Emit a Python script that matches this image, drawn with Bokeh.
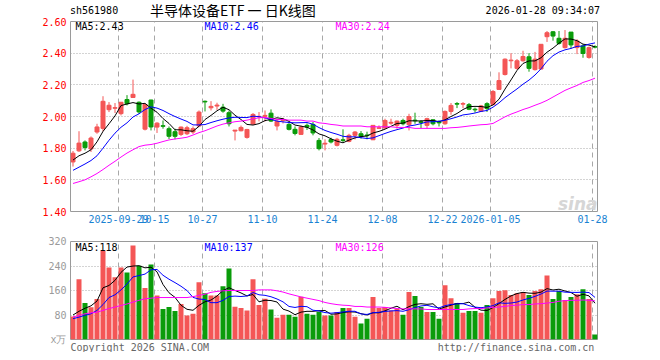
from bokeh.plotting import figure
from bokeh.models import (ColumnDataSource, Range1d, FixedTicker, Label, Title, Div,
                          CustomJSTickFormatter, PrintfTickFormatter)
from bokeh.layouts import column
from bokeh.embed import file_html
from bokeh.resources import INLINE

# ---------------- data ----------------
opens = [1.713, 1.783, 1.839, 1.795, 1.902, 1.925, 2.043, 2.052, 2.018, 2.107,
         2.120, 2.090, 1.920, 2.104, 1.933, 1.942, 1.923, 1.904, 1.887, 1.891,
         1.902, 1.940, 2.096, 2.055, 2.066, 2.059, 2.024, 1.908, 1.910, 1.868,
         1.952, 1.998, 2.001, 2.021, 1.940, 1.974, 1.950, 1.919, 1.887, 1.944,
         1.950, 1.849, 1.826, 1.854, 1.818, 1.853, 1.843, 1.881, 1.891, 1.883,
         1.853, 1.925, 1.927, 1.958, 1.944, 1.975, 1.948, 1.977, 1.967, 1.944,
         1.979, 1.965, 1.954, 2.032, 2.082, 2.078, 2.075, 2.046, 2.033, 2.081,
         2.075, 2.171, 2.265, 2.352, 2.304, 2.352, 2.377, 2.296, 2.300, 2.504,
         2.535, 2.494, 2.435, 2.533, 2.435, 2.446, 2.373, 2.442]
highs = [1.782, 1.907, 1.849, 1.874, 1.954, 2.128, 2.091, 2.085, 2.091, 2.135,
         2.233, 2.095, 2.080, 2.106, 1.964, 1.975, 1.937, 1.923, 1.937, 1.941,
         1.937, 2.038, 2.101, 2.097, 2.087, 2.080, 2.038, 1.914, 1.943, 1.922,
         2.022, 2.028, 2.038, 2.045, 1.986, 1.992, 1.965, 1.937, 1.943, 1.956,
         1.965, 1.864, 1.856, 1.866, 1.865, 1.919, 1.891, 1.908, 1.908, 1.904,
         1.944, 1.944, 1.986, 1.986, 1.975, 1.986, 2.017, 2.024, 1.977, 1.992,
         1.981, 1.975, 2.038, 2.085, 2.091, 2.091, 2.085, 2.056, 2.073, 2.090,
         2.167, 2.279, 2.367, 2.400, 2.363, 2.415, 2.400, 2.408, 2.456, 2.540,
         2.540, 2.540, 2.546, 2.533, 2.488, 2.456, 2.442, 2.450]
lows = [1.684, 1.776, 1.786, 1.776, 1.891, 1.906, 2.028, 2.022, 2.007, 2.070,
        2.118, 2.017, 1.912, 1.912, 1.896, 1.923, 1.858, 1.856, 1.877, 1.883,
        1.889, 1.933, 2.032, 2.038, 2.042, 2.024, 1.937, 1.849, 1.906, 1.860,
        1.948, 1.969, 1.969, 1.965, 1.912, 1.956, 1.912, 1.881, 1.887, 1.915,
        1.881, 1.786, 1.786, 1.830, 1.811, 1.839, 1.837, 1.855, 1.860, 1.856,
        1.851, 1.923, 1.923, 1.948, 1.923, 1.944, 1.912, 1.954, 1.927, 1.923,
        1.944, 1.937, 1.948, 2.011, 2.053, 2.053, 2.040, 2.025, 2.029, 2.029,
        2.071, 2.171, 2.259, 2.304, 2.296, 2.346, 2.283, 2.290, 2.296, 2.471,
        2.479, 2.454, 2.429, 2.429, 2.394, 2.371, 2.365, 2.430]
closes = [1.768, 1.832, 1.804, 1.864, 1.934, 2.096, 2.071, 2.056, 2.090, 2.081,
          2.140, 2.029, 2.076, 1.934, 1.958, 1.938, 1.875, 1.875, 1.933, 1.929,
          1.923, 2.028, 2.092, 2.064, 2.072, 2.034, 1.954, 1.914, 1.931, 1.918,
          2.013, 2.001, 2.007, 1.971, 1.969, 1.980, 1.919, 1.893, 1.933, 1.933,
          1.896, 1.797, 1.831, 1.839, 1.856, 1.849, 1.881, 1.902, 1.875, 1.879,
          1.944, 1.929, 1.975, 1.963, 1.971, 1.954, 2.000, 1.973, 1.962, 1.986,
          1.954, 1.960, 2.032, 2.070, 2.078, 2.082, 2.046, 2.042, 2.067, 2.050,
          2.158, 2.227, 2.362, 2.356, 2.352, 2.379, 2.304, 2.362, 2.456, 2.529,
          2.508, 2.462, 2.494, 2.452, 2.477, 2.398, 2.435, 2.438]
volumes = [75, 197, 119, 105, 132, 291, 235, 203, 235, 219,
           307, 241, 168, 245, 144, 100, 106, 93, 116, 78,
           84, 187, 151, 144, 144, 174, 232, 107, 103, 95,
           197, 113, 133, 98, 71, 81, 81, 74, 140, 84,
           81, 91, 78, 78, 90, 103, 103, 74, 52, 68,
           139, 103, 106, 95, 100, 81, 155, 142, 106, 90,
           90, 68, 177, 135, 119, 87, 93, 93, 87, 113,
           135, 158, 161, 145, 151, 155, 145, 158, 164, 209,
           132, 158, 129, 139, 148, 164, 132, 16]
ma5 = [1.725, 1.752, 1.768, 1.790, 1.840, 1.906, 1.954, 2.004, 2.069, 2.079,
       2.088, 2.079, 2.083, 2.052, 2.027, 1.987, 1.956, 1.916, 1.916, 1.910,
       1.907, 1.938, 1.981, 2.007, 2.036, 2.058, 2.043, 2.008, 1.981, 1.950,
       1.946, 1.955, 1.974, 1.982, 1.992, 1.986, 1.969, 1.946, 1.939, 1.932,
       1.915, 1.890, 1.878, 1.859, 1.844, 1.834, 1.851, 1.865, 1.873, 1.877,
       1.896, 1.906, 1.920, 1.938, 1.956, 1.958, 1.973, 1.972, 1.972, 1.975,
       1.975, 1.967, 1.979, 2.000, 2.019, 2.044, 2.062, 2.064, 2.063, 2.057,
       2.073, 2.109, 2.173, 2.231, 2.291, 2.335, 2.351, 2.351, 2.371, 2.406,
       2.432, 2.463, 2.490, 2.489, 2.479, 2.457, 2.451, 2.440]
ma10 = [1.660, 1.680, 1.700, 1.722, 1.752, 1.800, 1.850, 1.895, 1.932, 1.960,
        1.997, 2.017, 2.044, 2.061, 2.053, 2.038, 2.018, 2.000, 1.984, 1.969,
        1.947, 1.947, 1.949, 1.962, 1.973, 1.983, 1.991, 1.995, 1.994, 1.993,
        2.002, 1.999, 1.991, 1.982, 1.971, 1.966, 1.962, 1.960, 1.961, 1.962,
        1.951, 1.930, 1.912, 1.899, 1.888, 1.875, 1.871, 1.872, 1.866, 1.861,
        1.865, 1.879, 1.893, 1.906, 1.917, 1.927, 1.940, 1.946, 1.955, 1.966,
        1.967, 1.970, 1.976, 1.986, 1.997, 2.010, 2.015, 2.022, 2.032, 2.038,
        2.059, 2.086, 2.119, 2.147, 2.174, 2.204, 2.230, 2.262, 2.301, 2.349,
        2.384, 2.407, 2.421, 2.430, 2.443, 2.445, 2.457, 2.465]
ma30 = [1.577, 1.588, 1.600, 1.619, 1.640, 1.665, 1.692, 1.717, 1.744, 1.769,
        1.790, 1.810, 1.819, 1.823, 1.831, 1.842, 1.852, 1.858, 1.863, 1.869,
        1.883, 1.898, 1.910, 1.925, 1.940, 1.952, 1.960, 1.967, 1.971, 1.977,
        1.985, 1.992, 1.994, 1.988, 1.981, 1.981, 1.977, 1.977, 1.977, 1.971,
        1.971, 1.960, 1.956, 1.950, 1.946, 1.940, 1.940, 1.940, 1.940, 1.935,
        1.935, 1.935, 1.935, 1.935, 1.931, 1.931, 1.931, 1.925, 1.925, 1.925,
        1.925, 1.925, 1.925, 1.929, 1.931, 1.935, 1.940, 1.944, 1.948, 1.950,
        1.956, 1.977, 1.998, 2.015, 2.029, 2.044, 2.056, 2.071, 2.085, 2.102,
        2.123, 2.144, 2.165, 2.181, 2.196, 2.215, 2.227, 2.242]
vma5 = [80, 92, 102, 110, 125.6, 168.8, 176.4, 193.2, 219.2, 236.6,
        239.8, 241, 234, 236, 221, 179.6, 152.6, 137.6, 111.8, 98.6,
        95.4, 111.6, 123.2, 128.8, 142, 160, 169, 160.2, 152, 142.2,
        146.8, 123, 128.2, 127.2, 122.4, 99.2, 92.8, 81, 89.4, 92,
        92, 94, 94.8, 82.4, 83.6, 88, 90.4, 89.6, 84.4, 80,
        87.2, 87.2, 93.6, 102.2, 108.6, 97, 107.4, 114.6, 116.8, 114.8,
        116.6, 99.2, 106.2, 112, 117.8, 117.2, 122.2, 105.4, 95.8, 94.6,
        104.2, 117.2, 130.8, 142.4, 150, 154, 151.4, 150.8, 154.6, 166.2,
        161.6, 164.2, 158.4, 153.4, 141.2, 147.6, 142.4, 118.5]
vma10 = [68, 73, 79, 84, 95, 114, 137, 146, 162, 181.1,
         204.3, 208.7, 213.6, 227.6, 228.8, 209.7, 196.8, 185.8, 173.9, 159.8,
         137.5, 132.1, 130.4, 120.3, 120.3, 127.7, 140.3, 141.7, 140.4, 142.1,
         153.4, 146, 144.2, 139.6, 132.3, 123, 107.9, 104.6, 108.3, 107.2,
         95.6, 93.4, 87.9, 85.9, 87.8, 90, 92.2, 92.2, 83.4, 81.8,
         87.6, 88.8, 91.6, 93.3, 94.3, 92.1, 97.3, 104.1, 109.5, 111.7,
         106.8, 103.3, 110.4, 114.4, 116.3, 116.9, 110.7, 105.8, 103.9, 106.2,
         110.7, 119.7, 118.1, 119.1, 122.3, 129.1, 134.3, 140.8, 148.5, 158.1,
         157.8, 157.8, 154.6, 154, 153.7, 154.6, 153.3, 137.5]
vma30 = [74, 78, 84, 87, 89, 95, 101, 106, 111, 116,
         122, 128, 133, 135, 137, 137, 137, 137, 137, 137,
         140, 144, 148, 154, 157, 159, 160, 160, 160, 160,
         160, 162, 162, 162, 159, 155, 149, 144, 139, 135,
         131, 127, 121, 117, 114, 112, 111, 108, 108, 106,
         106, 106, 105, 103, 101, 100, 100, 100, 100, 98,
         98, 98, 98, 98, 98, 98, 100, 101, 101, 103,
         105, 106, 108, 111, 112, 114, 114, 116, 117, 119,
         121, 125, 127, 128, 128, 129, 128, 126]

tick_idx = [8, 14, 22, 32, 42, 52, 62, 70, 87]
tick_labels = ["2025-09-29", "10-15", "10-27", "11-10", "11-24",
               "12-08", "12-22", "2026-01-05", "01-28"]
price_ticks = [1.40, 1.60, 1.80, 2.00, 2.20, 2.40, 2.60]
vol_ticks = [0, 80, 160, 240, 320]

code_name = "sh561980"
title_text = "半导体设备ETF 一 日K线图"
stamp_text = "2026-01-28 09:34:07"
legend_price = ["MA5:2.43", "MA10:2.46", "MA30:2.24"]
legend_vol = ["MA5:118", "MA10:137", "MA30:126"]
footer_left = "Copyright 2026 SINA.COM"
footer_right = "http://finance.sina.com.cn"

# ---------------- styling / geometry ----------------
UP = "#f45656"
DOWN = "#0a9c0a"
MONO = "DejaVu Sans Mono"
W = 652
FRAME_L, FRAME_R = 70, 597
SLOT = 6.0
HALF = 5.0 / 12.0
X0 = -HALF
X1 = X0 + (FRAME_R - FRAME_L) / SLOT
HEAD_H = 17

n = len(closes)
xs = list(range(n))
colors = [UP if c >= o else DOWN for o, c in zip(opens, closes)]
src = ColumnDataSource(dict(
    x=xs, open=opens, high=highs, low=lows, close=closes,
    btop=[max(o, c) for o, c in zip(opens, closes)],
    bbot=[min(o, c) for o, c in zip(opens, closes)],
    vol=volumes, color=colors,
    ma5=ma5, ma10=ma10, ma30=ma30, vma5=vma5, vma10=vma10, vma30=vma30))


def px2x(px):
    return (px - FRAME_L) / SLOT + X0


def add_label(p, x, y, text, color="#000000", font=MONO, size="10px",
              align="left", baseline="middle", style="normal"):
    p.add_layout(Label(x=x, y=y, text=text, text_color=color, text_font=font,
                       text_font_size=size, text_align=align,
                       text_baseline=baseline, text_font_style=style))


# ---------------- header strip (page y 0..17) ----------------
head_html = (
    f'<div style="position:relative;width:{W}px;height:{HEAD_H}px;overflow:visible;'
    f'font-family:\'{MONO}\';font-size:10px;color:#000;white-space:nowrap;">'
    f'<span style="position:absolute;left:70px;top:6px;line-height:10px;">{code_name}</span>'
    f'<span style="position:absolute;left:150px;top:3px;line-height:14px;font-size:14px;'
    f'font-family:\'Noto Sans CJK SC\';">{title_text}</span>'
    f'<span style="position:absolute;right:{W - 600}px;top:6px;line-height:10px;">{stamp_text}</span>'
    f'</div>')
head = Div(text=head_html, width=W, height=HEAD_H, margin=(0, 0, 0, 0))

# ---------------- price panel: frame page y 21..211 ----------------
P_TOP, P_BOT = 21, 211


def py2p(py):
    return 2.60 - (py - P_TOP) / (P_BOT - P_TOP) * 1.2


p1 = figure(width=W, height=211, x_range=Range1d(X0, X1),
            y_range=Range1d(1.40, 2.60), output_backend="svg",
            toolbar_location=None, min_border_left=70, min_border_right=W - FRAME_R,
            min_border_top=P_TOP - HEAD_H, min_border_bottom=17)
p1.outline_line_color = "#9a9a9a"
p1.background_fill_color = "white"
p1.border_fill_color = "white"

date_ticker = FixedTicker(ticks=[k - HALF for k in tick_idx])
p1.xaxis.ticker = date_ticker
p1.xaxis.formatter = CustomJSTickFormatter(
    args=dict(idx=tick_idx, labels=tick_labels),
    code="const k = Math.round(tick + 5/12); const j = idx.indexOf(k); return j >= 0 ? labels[j] : '';")
p1.yaxis.ticker = FixedTicker(ticks=price_ticks)
p1.yaxis.formatter = PrintfTickFormatter(format="%.2f")
for ax in (p1.xaxis[0], p1.yaxis[0]):
    ax.axis_line_color = None
    ax.major_tick_out = 0
    ax.major_tick_in = 0
    ax.minor_tick_out = 0
    ax.minor_tick_in = 0
    ax.major_label_text_font = MONO
    ax.major_label_text_font_size = "10px"
p1.xaxis.major_label_text_color = "#1a82d2"
p1.xaxis.major_label_standoff = 3
p1.yaxis.major_label_text_color = "#ff0000"
p1.yaxis.major_label_standoff = 4
p1.ygrid.grid_line_color = "#a8a8a8"
p1.ygrid.grid_line_dash = "1 2"
p1.xgrid.grid_line_color = "#a8a8a8"
p1.xgrid.grid_line_dash = "5 4"

p1.segment(x0="x", y0="low", x1="x", y1="high", source=src,
           line_color="color", line_width=1)
p1.vbar(x="x", width=4.0 / 6.0, top="btop", bottom="bbot", source=src,
        fill_color="color", line_color="color", line_width=1)
p1.line("x", "ma5", source=src, line_color="#000000", line_width=1)
p1.line("x", "ma10", source=src, line_color="#0000ff", line_width=1)
p1.line("x", "ma30", source=src, line_color="#ff00ff", line_width=1)

add_label(p1, px2x(75), py2p(26), legend_price[0], color="#000000")
add_label(p1, px2x(204), py2p(26), legend_price[1], color="#0000ff")
add_label(p1, px2x(335), py2p(26), legend_price[2], color="#ff00ff")
add_label(p1, px2x(597), py2p(203), "sina", color="#d6d6d6", font="DejaVu Sans",
          size="17px", align="right", baseline="alphabetic", style="bold italic")

# ---------------- volume panel: frame page y 241..340 ----------------
p2 = figure(width=W, height=124, x_range=p1.x_range, y_range=Range1d(0, 320),
            output_backend="svg", toolbar_location=None, x_axis_location=None,
            min_border_left=70, min_border_right=W - FRAME_R, min_border_top=13,
            min_border_bottom=12)
p2.outline_line_color = "#9a9a9a"
p2.background_fill_color = "white"
p2.border_fill_color = "white"
p2.xgrid.ticker = date_ticker
p2.xgrid.grid_line_color = "#a8a8a8"
p2.xgrid.grid_line_dash = "5 4"
p2.yaxis.ticker = FixedTicker(ticks=vol_ticks)
p2.yaxis.formatter = CustomJSTickFormatter(
    args=dict(unit="x万"), code="return tick == 0 ? unit : tick.toFixed(0);")
ax = p2.yaxis[0]
ax.axis_line_color = None
ax.major_tick_out = 0
ax.major_tick_in = 0
ax.minor_tick_out = 0
ax.minor_tick_in = 0
ax.major_label_text_font = MONO
ax.major_label_text_font_size = "10px"
ax.major_label_text_color = "#9a9a9a"
ax.major_label_standoff = 4
p2.ygrid.grid_line_color = "#a8a8a8"
p2.ygrid.grid_line_dash = "1 2"

p2.vbar(x="x", width=5.0 / 6.0, top="vol", bottom=0, source=src,
        fill_color="color", line_color=None)
p2.line("x", "vma5", source=src, line_color="#000000", line_width=1)
p2.line("x", "vma10", source=src, line_color="#0000ff", line_width=1)
p2.line("x", "vma30", source=src, line_color="#ff00ff", line_width=1)


def py2v(py):
    return (340 - py) / 99.0 * 320


add_label(p2, px2x(75), py2v(247), legend_vol[0], color="#000000")
add_label(p2, px2x(204), py2v(247), legend_vol[1], color="#0000ff")
add_label(p2, px2x(335), py2v(247), legend_vol[2], color="#ff00ff")

footer = footer_left + "\u00a0" * 38 + footer_right
p2.add_layout(Title(text=footer, align="left", text_font=MONO, text_font_size="10px",
                    text_font_style="normal", text_color="#666666",
                    standoff=0, offset=0), "below")

layout = column(head, p1, p2)
open("out.html", "w").write(file_html(layout, INLINE))
